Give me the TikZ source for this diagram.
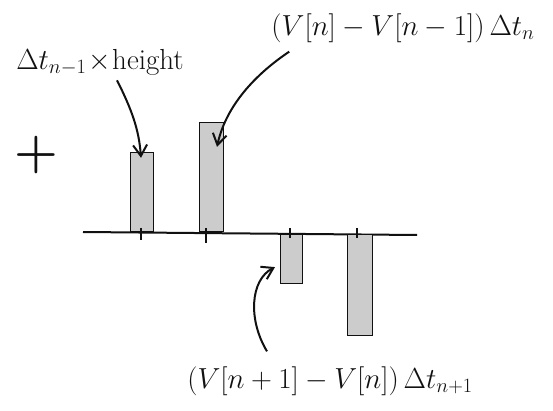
\RequirePackage{fix-cm}
\documentclass[tikz,border=0pt]{standalone}
\usepackage{amsmath, amssymb}
\usepackage{xcolor}
\usepackage{tikz}
\usetikzlibrary{arrows.meta, positioning, calc}
\definecolor{barfill}{HTML}{CCCCCC}
\definecolor{ink}{HTML}{111111}

\begin{document}
\begin{tikzpicture}[x=1pt, y=-1pt,
        bar/.style={draw=ink, line width=1.2pt, fill=barfill, inner sep=0pt,
                    minimum width=23pt, anchor=south west},
        negbar/.style={bar, anchor=north west},
        tickmark/.style={draw=ink, line width=1.4pt},
        arr/.style={draw=ink, line width=2pt, -{Straight Barb[length=11pt, width=14pt, line width=2pt]}},
        lbl/.style={text=ink, font=\fontsize{29}{34}\selectfont, inner sep=2pt}]
    \useasboundingbox (0,0) rectangle (553,411);

    % axis
    \coordinate (axl) at (83,232);
    \coordinate (axr) at (417,235);
    \draw[ink, line width=2pt] (axl) -- (axr);

    % bars
    \node[bar, minimum height=79pt] (b1) at (130,232) {};
    \node[bar, minimum height=109pt, minimum width=24pt] (b2) at (199,232) {};
    \node[negbar, minimum height=49pt, minimum width=22pt] (b3) at (280,234) {};
    \node[negbar, minimum height=101pt, minimum width=25pt] (b4) at (347,234) {};

    % ticks
    \draw[tickmark] ($(b1.south west)+(11,-4)$) -- ++(0,12);
    \draw[tickmark] ($(b2.south west)+(7,-4)$) -- ++(0,15);
    \draw[tickmark] ($(b3.north west)+(10,-6)$) -- ++(0,10);
    \draw[tickmark] ($(b4.north west)+(10,-6)$) -- ++(0,10);

    % labels
    \node[lbl] (plus) at (36,155) {\fontsize{50}{50}\selectfont\textbf{+}};
    \node[lbl] (lblL) at (100,62) {$\Delta t_{n-1}\!\times\!\text{height}$};
    \node[lbl] (lblN) at (403,28) {$(V[n]-V[n-1])\,\Delta t_{n}$};
    \node[lbl] (lblP) at (330,381) {$(V[n+1]-V[n])\,\Delta t_{n+1}$};

    % arrows
    \draw[arr] ($(lblL.south)+(17,3)$) .. controls (132,110) and (139,130) .. ($(b1.north west)+(11,6)$);
    \draw[arr] ($(lblN.south west)+(20,7)$) .. controls (250,78) and (225,110) .. ($(b2.north west)+(18,25)$);
    \draw[arr] ($(lblP.north)+(-63,-13)$) .. controls (248,320) and (250,280) .. ($(b3.west)+(-5,8)$);
\end{tikzpicture}
\end{document}
